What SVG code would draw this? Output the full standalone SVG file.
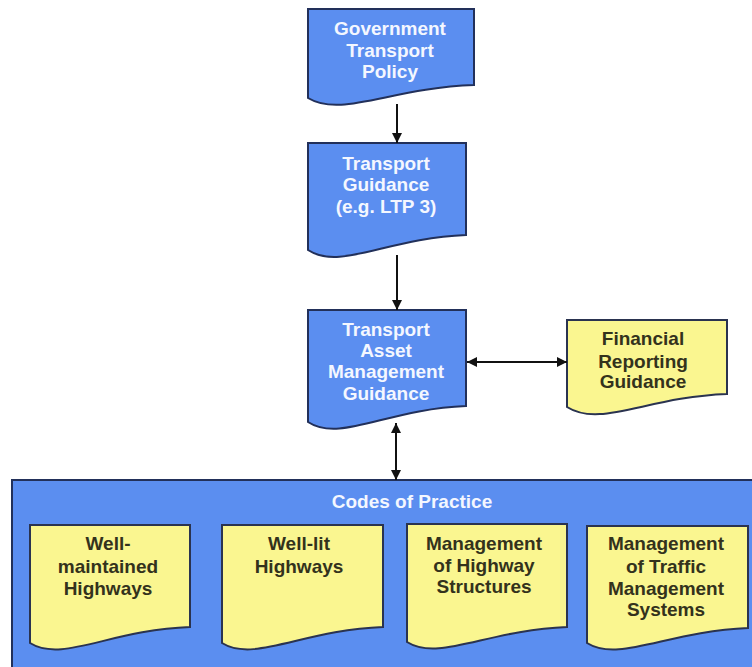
<svg xmlns="http://www.w3.org/2000/svg" width="752" height="667" viewBox="0 0 752 667">
<defs>
<style>
.blue{fill:#5b8ef0;stroke:#22305a;stroke-width:2}
.yel{fill:#faf690;stroke:#2a3350;stroke-width:2}
.wt{font-family:"Liberation Sans",Arial,sans-serif;font-weight:bold;font-size:19px;fill:#f4f7ff;text-anchor:middle}
.dt{font-family:"Liberation Sans",Arial,sans-serif;font-weight:bold;font-size:19px;fill:#33321c;text-anchor:middle}
.con{stroke:#111;stroke-width:2;fill:none}
</style>
<marker id="ah" viewBox="0 0 10 10" refX="10" refY="5" markerWidth="5" markerHeight="5" orient="auto-start-reverse" markerUnits="strokeWidth">
<path d="M0,0 L10,5 L0,10 Z" fill="#111"/>
</marker>
</defs>
<rect width="752" height="667" fill="#ffffff"/>

<g id="gov-policy">
<path class="blue" d="M308,9 H474 V85 C391,88 341,118 308,98 Z"/>
<text class="wt" x="390" y="35">Government</text>
<text class="wt" x="390" y="57">Transport</text>
<text class="wt" x="390" y="78">Policy</text>
</g>

<g id="transport-guidance">
<path class="blue" d="M308,143 H466 V235 C387,238 340,271 308,250 Z"/>
<text class="wt" x="386" y="170">Transport</text>
<text class="wt" x="386" y="191">Guidance</text>
<text class="wt" x="386" y="213">(e.g. LTP 3)</text>
</g>

<g id="tam-guidance">
<path class="blue" d="M308,310 H466 V406 C387,409 340,443 308,422 Z"/>
<text class="wt" x="386" y="336">Transport</text>
<text class="wt" x="386" y="357">Asset</text>
<text class="wt" x="386" y="378">Management</text>
<text class="wt" x="386" y="400">Guidance</text>
</g>

<g id="financial-guidance">
<path class="yel" d="M567,320 H727 V394 C647,397 600,428 567,407 Z"/>
<text class="dt" x="643" y="345">Financial</text>
<text class="dt" x="643" y="368">Reporting</text>
<text class="dt" x="643" y="388">Guidance</text>
</g>

<g id="codes-of-practice">
<rect class="blue" x="12" y="480" width="760" height="200"/>
<text class="wt" x="412" y="508">Codes of Practice</text>
</g>

<g id="well-maintained">
<path class="yel" d="M30,525 H190 V627 C110,630 62,663 30,643 Z"/>
<text class="dt" x="108" y="550">Well-</text>
<text class="dt" x="108" y="573">maintained</text>
<text class="dt" x="108" y="595">Highways</text>
</g>

<g id="well-lit">
<path class="yel" d="M222,525 H383 V627 C303,630 254,663 222,643 Z"/>
<text class="dt" x="299" y="550">Well-lit</text>
<text class="dt" x="299" y="573">Highways</text>
</g>

<g id="highway-structures">
<path class="yel" d="M407,524 H567 V627 C487,630 439,662 407,642 Z"/>
<text class="dt" x="484" y="550">Management</text>
<text class="dt" x="484" y="572">of Highway</text>
<text class="dt" x="484" y="593">Structures</text>
</g>

<g id="traffic-management">
<path class="yel" d="M587,526 H748 V628 C668,631 619,663 587,643 Z"/>
<text class="dt" x="666" y="550">Management</text>
<text class="dt" x="666" y="573">of Traffic</text>
<text class="dt" x="666" y="595">Management</text>
<text class="dt" x="666" y="616">Systems</text>
</g>

<g id="connectors">
<line class="con" x1="397" y1="104" x2="397" y2="143" marker-end="url(#ah)"/>
<line class="con" x1="397" y1="255" x2="397" y2="310" marker-end="url(#ah)"/>
<line class="con" x1="467" y1="362" x2="567" y2="362" marker-start="url(#ah)" marker-end="url(#ah)"/>
<line class="con" x1="396" y1="423" x2="396" y2="480" marker-start="url(#ah)" marker-end="url(#ah)"/>
</g>
</svg>
